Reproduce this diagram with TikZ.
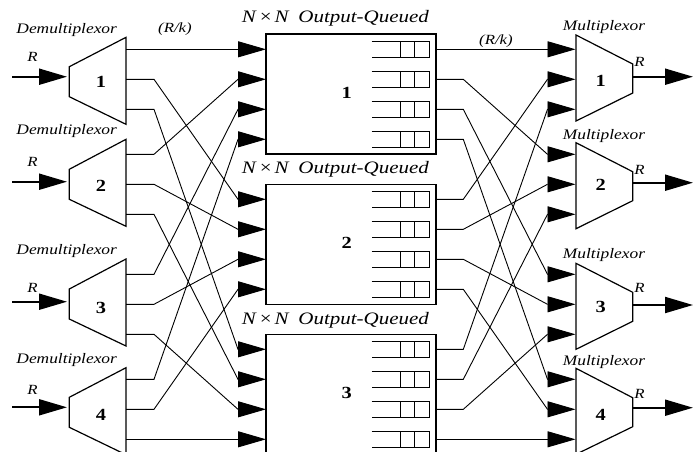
\documentclass[tikz,border=0pt]{standalone}
\usepackage{fontspec}
\setmainfont{Liberation Serif}[FakeStretch=1.2]
\usetikzlibrary{arrows.meta}

\tikzset{
  unitline/.style={line width=1.2pt, line join=miter},
  qline/.style={line width=1pt},
  wire/.style={line width=0.9pt, -{Triangle[length=28pt,width=16pt]}},
  feed/.style={line width=2pt, -{Triangle[length=28pt,width=16pt]}},
  sbox/.style={draw, line width=1.2pt, minimum width=170pt, minimum height=120pt, inner sep=0pt},
  unitname/.style={font=\itshape\fontsize{14.5}{16}\selectfont, inner sep=0pt},
  swname/.style={font=\fontsize{17.5}{19}\selectfont, inner sep=0pt},
  rate/.style={font=\itshape\fontsize{14}{16}\selectfont, inner sep=0pt},
  num/.style={font=\bfseries\fontsize{17}{19}\selectfont, inner sep=0pt},
}

\begin{document}
\begin{tikzpicture}[x=1pt, y=-1pt]
\useasboundingbox (0,0) rectangle (693,451);
\fill[white] (0,0) rectangle (693,451);
\clip (0,0) rectangle (693,451);

% output-queued switches with their queues
\foreach \j/\cy/\ly in {1/94/18.3, 2/244.3/169, 3/394.5/320.7} {
  \node[sbox] (sw\j) at (351,\cy) {};
  \node[num] (swn\j) at (346.7,\cy-1.5) {\j};
  \node[swname] (swl\j) at (335.5,\ly) {\textit{N}\,×\,\textit{N}\enspace\textit{Output-Queued}};
}
\foreach \j/\y in {1/49.3, 2/199.3, 3/349.3} {
  \foreach \i in {1,...,4} {
    \coordinate (s\j i\i) at (266,\y+30*\i-30);
    \coordinate (s\j o\i) at (436,\y+30*\i-30);
    \begin{scope}[shift={(0,\y+30*\i-30)}]
      \draw[qline] (371.7,-7.6) -- (429,-7.6) -- (429,7.8) -- (371.7,7.8);
      \draw[qline] (400.3,-7.6) -- (400.3,7.8) (414.3,-7.6) -- (414.3,7.8);
    \end{scope}
  }
}

% demultiplexors
\foreach \i/\lt/\rt/\ay/\ny/\ry/\ly in {
    1/66.7/37.3/76.7/81.7/56.7/30,
    2/169.3/139.3/181.7/185.7/161.7/131,
    3/289/259/301.7/308.3/288.3/251,
    4/397.3/367.7/407.3/415/390/360} {
  \draw[unitline] (69.3,\lt) -- (126,\rt) -- (126,\rt+87) -- (69.3,\lt+30) -- cycle;
  \node[num] (dmx\i) at (101,\ny) {\i};
  \node[unitname] (dml\i) at (66.7,\ly) {Demultiplexor};
  \node[rate] (dmr\i) at (32.5,\ry) {R};
  \coordinate (src\i) at (12,\ay);
  \coordinate (dmin\i) at (67,\ay);
  \draw[feed] (src\i) -- (dmin\i);
}

% multiplexors
\foreach \i/\lt/\rt/\oy/\ny/\ry/\ly in {
    1/35/64/76.7/81/62/26.7,
    2/142.7/171.7/182.7/185/170/136,
    3/263.3/292.3/305/306.7/288.3/255,
    4/368.3/397.7/407.7/415/394.3/361.7} {
  \draw[unitline] (576,\lt) -- (632.7,\rt) -- (632.7,\rt+29) -- (576,\lt+86) -- cycle;
  \node[num] (mx\i) at (600.7,\ny) {\i};
  \node[unitname] (mxl\i) at (604,\ly) {Multiplexor};
  \node[rate] (mxr\i) at (639.5,\ry) {R};
  \coordinate (mxout\i) at (632.7,\oy);
  \coordinate (sink\i) at (693,\oy);
  \draw[feed] (mxout\i) -- (sink\i);
}

% ports of the demultiplexors and multiplexors
\foreach \i/\y in {1/49.3, 2/154.3, 3/274.3, 4/379.3} {
  \foreach \k in {1,2,3} {
    \coordinate (d\i o\k) at (126,\y+30*\k-30);
    \coordinate (m\i i\k) at (575.5,\y+30*\k-30);
  }
}

% demultiplexor i, line k -> switch k, input i;  switch k, output i -> multiplexor i, line k
\foreach \i in {1,...,4} {
  \foreach \k in {1,2,3} {
    \draw[wire] (d\i o\k) -- ++(28,0) -- ([xshift=-28pt]s\k i\i) -- (s\k i\i);
    \draw[wire] (s\k o\i) -- ++(27.3,0) -- ([xshift=-28pt]m\i i\k) -- (m\i i\k);
  }
}

\node[rate] (rkin) at (175,29) {(R/k)};
\node[rate] (rkout) at (496,41) {(R/k)};
\end{tikzpicture}
\end{document}
